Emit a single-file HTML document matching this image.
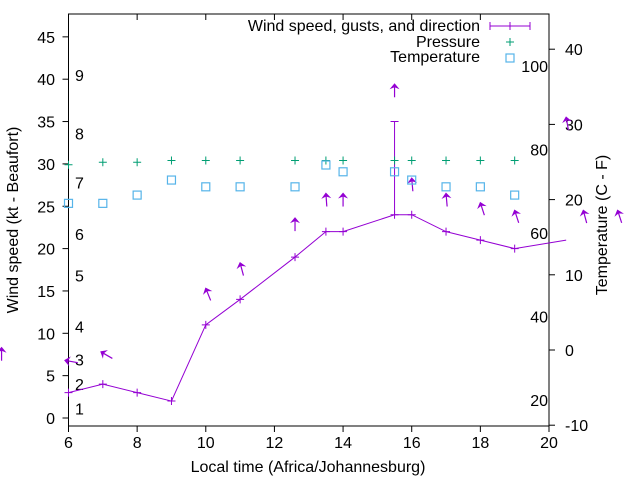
<!DOCTYPE html>
<html><head><meta charset="utf-8"><style>
body{margin:0;background:#fff}
svg{display:block;font-family:"Liberation Sans",sans-serif}
</style></head><body>
<svg id="chart" width="640" height="480" viewBox="0 0 640 480" xmlns="http://www.w3.org/2000/svg">
<g id="g"></g>
</svg>
<script>
const xTicks=[6,8,10,12,14,16,18,20];
const yTicks=[0,5,10,15,20,25,30,35,40,45];
const y2Ticks=[-10,0,10,20,30,40];
const fLabels=[100,80,60,40,20];
const beaufortLabels=[1,2,3,4,5,6,7,8,9];
const beaufortPos=[1.1,4,6.9,10.8,16.8,21.7,27.8,33.6,40.5];
const windTimes=[6,7,8,9,10,11,12.6,13.5,14,15.5,16,17,18,19,20.5];
const windSpeed=[3,4,3,2,11,14,19,22,22,24,24,22,21,20,21];
const gustTime=[15.5];
const gustSpeed=[35];
const arrowTimes=[4.05,5.9,6.95,10,11,12.6,13.5,14,15.5,16,17,18,19,20.5,21,22];
const arrowVals=[8.3,6.8,7.8,15.3,18.3,23.6,26.5,26.5,39.4,28.3,26.5,25.4,24.5,35.5,24.5,24.5];
const arrowDir=[0,-80,-60,-22,-15,0,-4,0,0,-5,-5,-18,-18,-10,-15,-18];
const presTimes=[6,7,8,9,10,11,12.6,13.5,14,15.5,16,17,18,19];
const presVals=[29.9,30.2,30.2,30.4,30.4,30.4,30.4,30.4,30.4,30.4,30.4,30.4,30.4,30.4];
const tempTimes=[6,7,8,9,10,11,12.6,13.5,14,15.5,16,17,18,19];
const tempVals=[19.5,19.5,20.6,22.6,21.7,21.7,21.7,24.6,23.7,23.7,22.6,21.7,21.7,20.6];

const L=68.5,R=549,T=14,B=426;
const X=t=>L+(t-6)*(R-L)/14;
const Y=v=>418-v*8.47;
const Y2=v=>350-v*7.52;
const g=document.getElementById('g');
const NS='http://www.w3.org/2000/svg';
function mk(tag,attrs,parent){const e=document.createElementNS(NS,tag);for(const k in attrs)e.setAttribute(k,attrs[k]);(parent||g).appendChild(e);return e;}
function txt(s,x,y,anchor,name,extra){const e=mk('text',Object.assign({x:x,y:y,'font-size':16,'text-anchor':anchor||'middle',fill:'#000'},extra||{}));e.textContent=s;return e;}

// border
const bd=mk('rect',{x:L,y:T,width:R-L,height:B-T,fill:'none',stroke:'#000','stroke-width':1});


xTicks.forEach(t=>{
  const x=X(t);
  mk('line',{x1:x,y1:B,x2:x,y2:B+6,stroke:'#000'});
  mk('line',{x1:x,y1:T,x2:x,y2:T+6,stroke:'#000'});
  txt(String(t),x,448,'middle','x-tick-label');
});
yTicks.forEach(v=>{
  const y=Y(v);
  mk('line',{x1:L-6,y1:y,x2:L,y2:y,stroke:'#000'});
  txt(String(v),55,y+6,'end','y-tick-label');
});
y2Ticks.forEach(v=>{
  const y=Y2(v);
  mk('line',{x1:R,y1:y,x2:R+6,y2:y,stroke:'#000'});
  txt(String(v),565,y+6,'start','y2-tick-label');
});
fLabels.forEach(f=>{
  const c=(f-32)*5/9;
  txt(String(f),548,Y2(c)+6,'end','fahrenheit-label');
});
beaufortLabels.forEach((b,i)=>{
  txt(String(b),75,Y(beaufortPos[i])+6,'start','beaufort-label');
});

txt('Local time (Africa/Johannesburg)',308,472,'middle','x-axis-title');
txt('Wind speed (kt - Beaufort)',0,0,'middle','y-axis-title',{transform:'translate(18,220) rotate(-90)'});
txt('Temperature (C - F)',0,0,'middle','y2-axis-title',{transform:'translate(607,225) rotate(-90)'});

const purple='#9400d3';
// wind line
const pts=windTimes.map((t,i)=>{let x=X(t),y=Y(windSpeed[i]);return [x,y];});
const pl=mk('polyline',{points:pts.map(p=>p.join(',')).join(' '),fill:'none',stroke:purple,'stroke-width':1});

pts.forEach(p=>{if(p[0]<=R+1){mk('path',{d:`M${p[0]-4},${p[1]}h8M${p[0]},${p[1]-4}v8`,stroke:purple});}});
// gust
gustTime.forEach((t,i)=>{
  const idx=windTimes.indexOf(t);const x=X(t);
  const e=mk('path',{d:`M${x},${Y(windSpeed[idx])}V${Y(gustSpeed[i])}M${x-4},${Y(gustSpeed[i])}h8`,stroke:purple,fill:'none'});
  
});
// arrows
arrowTimes.forEach((t,i)=>{
  const x=X(t),y=Y(arrowVals[i]);
  const a=mk('g',{transform:`translate(${x},${y}) rotate(${arrowDir[i]})`});
  
  mk('line',{x1:0,y1:1,x2:0,y2:13,stroke:purple,'stroke-width':1.2},a);
  mk('path',{d:'M0,-1 L-5,5 L0,3 L5,5 Z',fill:purple},a);
});
// pressure
presTimes.forEach((t,i)=>{
  const x=X(t),y=Y(presVals[i]);
  const e=mk('path',{d:`M${x-4},${y}h8M${x},${y-4}v8`,stroke:'#009e73','stroke-width':1});
  
});
// temperature
tempTimes.forEach((t,i)=>{
  const x=X(t),y=Y2(tempVals[i]);
  const e=mk('rect',{x:x-4,y:y-4,width:8,height:8,fill:'none',stroke:'#56b4e9','stroke-width':1.2});
  
});

// legend
txt('Wind speed, gusts, and direction',480,31,'end','legend-wind-label');
const lw=mk('path',{d:'M490,26H530M490,22v8M530,22v8M510,22v8',stroke:purple,fill:'none'});

txt('Pressure',480,47,'end','legend-pressure-label');
const lp=mk('path',{d:'M506,42h8M510,38v8',stroke:'#009e73'});

txt('Temperature',480,62,'end','legend-temperature-label');
const lt=mk('rect',{x:506,y:54,width:8,height:8,fill:'none',stroke:'#56b4e9','stroke-width':1.2});

</script>
</body></html>
